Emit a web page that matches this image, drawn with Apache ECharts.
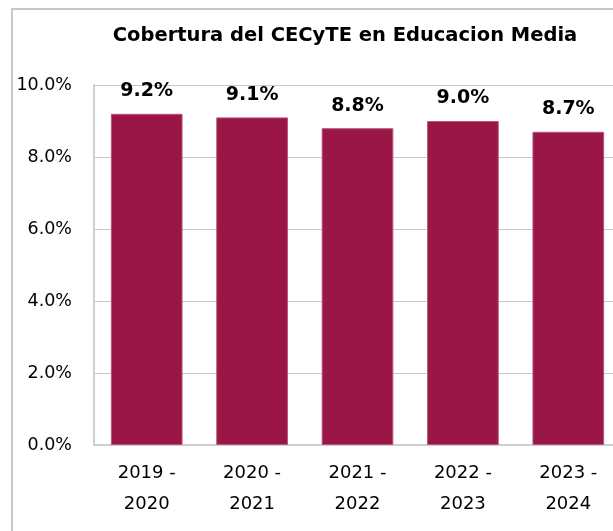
<!DOCTYPE html>
<html>
<head>
<meta charset="utf-8">
<script src="https://cdn.jsdelivr.net/npm/echarts@6/dist/echarts.min.js"></script>
<style>
  html, body { margin: 0; padding: 0; background: #fff; overflow: hidden; }
  #chart { width: 640px; height: 531px; }
</style>
</head>
<body>
<div id="chart"></div>
<script>
// ciclos escolares y cobertura
const categories = ['2019 -\n2020', '2020 -\n2021', '2021 -\n2022', '2022 -\n2023', '2023 -\n2024'];
const coverage = [0.092, 0.091, 0.088, 0.090, 0.087];

const pct = v => (v * 100).toFixed(1) + '%';

var myChart = echarts.init(document.getElementById('chart'));
var option = {
    backgroundColor: '#fff',
    animation: false,
    textStyle: { fontFamily: 'DejaVu Sans' },
    graphic: [{
        type: 'rect',
        shape: { x: 12, y: 9, width: 700, height: 600 },
        style: { fill: 'none', stroke: '#c8c8c8', lineWidth: 2 },
        silent: true
    }],
    title: {
        text: 'Cobertura del CECyTE en Educacion Media',
        left: 340,
        textAlign: 'center',
        top: 21,
        textStyle: { fontSize: 19.5, fontWeight: 'bold', color: '#000' }
    },
    grid: { left: 94, top: 85, width: 527, height: 360, containLabel: false },
    xAxis: {
        type: 'category',
        data: categories,
        axisLine: { show: true, lineStyle: { color: '#d0d0d0', width: 2 } },
        axisTick: { show: false },
        axisLabel: { color: '#000', fontSize: 18, lineHeight: 31, margin: 13 }
    },
    yAxis: {
        type: 'value',
        min: 0,
        max: 0.1,
        interval: 0.02,
        axisLine: { show: true, lineStyle: { color: '#d0d0d0', width: 2 } },
        axisTick: { show: false },
        splitLine: { lineStyle: { color: '#c8c8c8', width: 1 } },
        axisLabel: { color: '#000', fontSize: 17.5, margin: 22, formatter: v => pct(v) }
    },
    series: [{
        type: 'bar',
        data: coverage,
        barCategoryGap: '32%',
        itemStyle: { color: '#9a1646', borderColor: '#b85578', borderWidth: 1 },
        label: {
            show: true,
            position: 'top',
            distance: 13,
            color: '#000',
            fontSize: 19,
            fontWeight: 'bold',
            formatter: p => pct(p.value)
        }
    }]
};
myChart.setOption(option);
</script>
</body>
</html>
